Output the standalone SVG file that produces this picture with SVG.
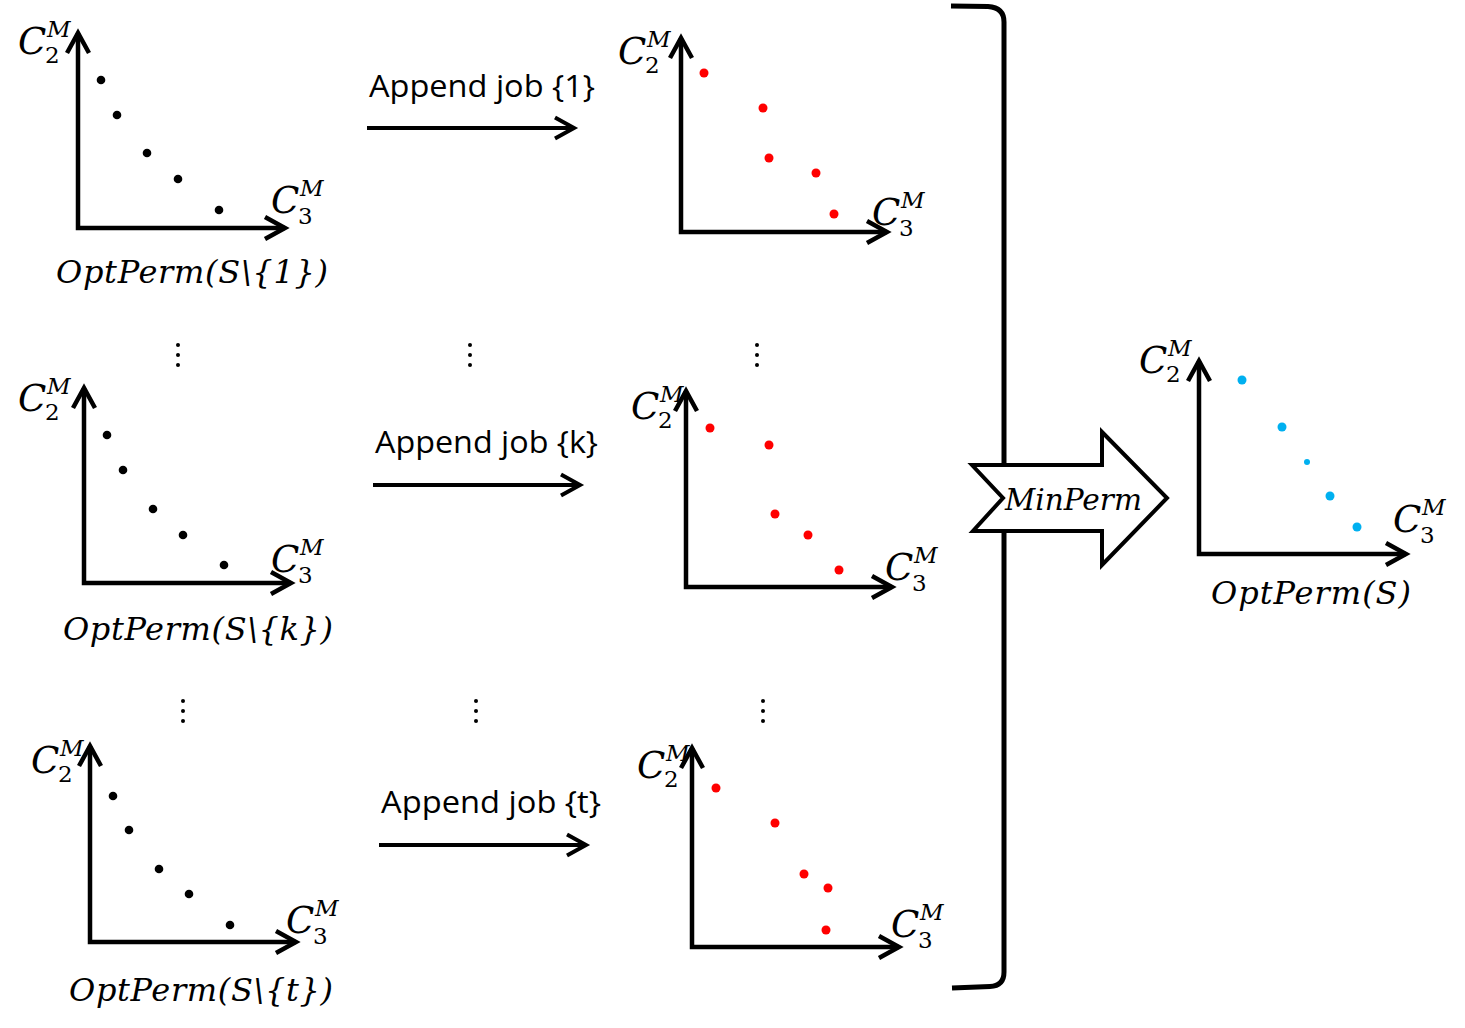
<svg xmlns="http://www.w3.org/2000/svg" width="1465" height="1028" viewBox="0 0 1465 1028">
<style>
.ax{fill:none;stroke:#000;stroke-width:4.5;stroke-linejoin:miter;marker-start:url(#ah);marker-end:url(#ah)}
.ar{fill:none;stroke:#000;stroke-width:4;marker-end:url(#ah2)}
.c{font-family:"DejaVu Serif","Liberation Serif",serif;font-style:italic;font-size:37px;fill:#000}
.n{font-family:"DejaVu Serif","Liberation Serif",serif;font-style:normal;font-size:23px}
.mi{font-family:"DejaVu Serif","Liberation Serif",serif;font-style:italic;font-size:23px}
.op{font-family:"DejaVu Serif","Liberation Serif",serif;font-style:italic;font-size:32px;fill:#000}
.ap{font-family:"Open Sans","Liberation Sans",sans-serif;font-size:31px;fill:#000}
.k{fill:#000}.r{fill:#ff0000}.b{fill:#00b0f0}
</style>
<defs>
<marker id="ah" markerUnits="userSpaceOnUse" orient="auto-start-reverse" markerWidth="40" markerHeight="40" refX="0" refY="0" viewBox="-30 -20 40 40" overflow="visible">
<path d="M-20,-11 L0,0 L-20,11" fill="none" stroke="#000" stroke-width="4.5"/>
</marker>
<marker id="ah2" markerUnits="userSpaceOnUse" orient="auto" markerWidth="40" markerHeight="40" refX="0" refY="0" viewBox="-30 -20 40 40" overflow="visible">
<path d="M-19,-10.5 L0,0 L-19,10.5" fill="none" stroke="#000" stroke-width="4"/>
</marker>
</defs>
<rect width="1465" height="1028" fill="#fff"/>

<g id="panel-1">
<path class="ax" d="M78,33 L78,228 L285,228"/>
<circle class="k" cx="101" cy="80" r="4.3"/><circle class="k" cx="117" cy="115" r="4.3"/><circle class="k" cx="147" cy="153" r="4.3"/><circle class="k" cx="178" cy="179" r="4.3"/><circle class="k" cx="219" cy="210" r="4.3"/>
<text class="c" x="18" y="54">C<tspan class="mi" x="47" dy="-17">M</tspan><tspan class="n" x="45" dy="26">2</tspan></text>
<text class="c" x="271" y="213">C<tspan class="mi" x="300" dy="-17">M</tspan><tspan class="n" x="298" dy="28">3</tspan></text>
<text class="op" x="56" y="283" textLength="272" lengthAdjust="spacing">OptPerm(S\{1})</text>
</g>

<g id="panel-k">
<path class="ax" d="M84,388 L84,583 L291,583"/>
<circle class="k" cx="107" cy="435" r="4.3"/><circle class="k" cx="123" cy="470" r="4.3"/><circle class="k" cx="153" cy="509" r="4.3"/><circle class="k" cx="183" cy="535" r="4.3"/><circle class="k" cx="224" cy="565" r="4.3"/>
<text class="c" x="18" y="411">C<tspan class="mi" x="47" dy="-17">M</tspan><tspan class="n" x="45" dy="26">2</tspan></text>
<text class="c" x="271" y="572">C<tspan class="mi" x="300" dy="-17">M</tspan><tspan class="n" x="298" dy="28">3</tspan></text>
<text class="op" x="63" y="640" textLength="270" lengthAdjust="spacing">OptPerm(S\{k})</text>
</g>

<g id="panel-t">
<path class="ax" d="M90,746 L90,942 L296,942"/>
<circle class="k" cx="113" cy="796" r="4.3"/><circle class="k" cx="129" cy="830" r="4.3"/><circle class="k" cx="159" cy="869" r="4.3"/><circle class="k" cx="189" cy="894" r="4.3"/><circle class="k" cx="230" cy="925" r="4.3"/>
<text class="c" x="31" y="773">C<tspan class="mi" x="60" dy="-17">M</tspan><tspan class="n" x="58" dy="26">2</tspan></text>
<text class="c" x="286" y="933">C<tspan class="mi" x="315" dy="-17">M</tspan><tspan class="n" x="313" dy="28">3</tspan></text>
<text class="op" x="69" y="1001" textLength="264" lengthAdjust="spacing">OptPerm(S\{t})</text>
</g>

<g id="ellipses">
<circle class="k" cx="178" cy="345" r="2"/><circle class="k" cx="178" cy="355" r="2"/><circle class="k" cx="178" cy="365" r="2"/>
<circle class="k" cx="470" cy="345" r="2"/><circle class="k" cx="470" cy="355" r="2"/><circle class="k" cx="470" cy="365" r="2"/>
<circle class="k" cx="757" cy="345" r="2"/><circle class="k" cx="757" cy="355" r="2"/><circle class="k" cx="757" cy="365" r="2"/>
<circle class="k" cx="183" cy="701" r="2"/><circle class="k" cx="183" cy="711" r="2"/><circle class="k" cx="183" cy="721" r="2"/>
<circle class="k" cx="476" cy="701" r="2"/><circle class="k" cx="476" cy="711" r="2"/><circle class="k" cx="476" cy="721" r="2"/>
<circle class="k" cx="763" cy="701" r="2"/><circle class="k" cx="763" cy="711" r="2"/><circle class="k" cx="763" cy="721" r="2"/>
</g>

<g id="connectors">
<path class="ar" d="M367,128 L574,128"/>
<path class="ar" d="M373,485 L580,485"/>
<path class="ar" d="M379,845 L586,845"/>
<text class="ap" x="369" y="97" textLength="226" lengthAdjust="spacingAndGlyphs">Append job {1}</text>
<text class="ap" x="375" y="453" textLength="223" lengthAdjust="spacingAndGlyphs">Append job {k}</text>
<text class="ap" x="381" y="813" textLength="220" lengthAdjust="spacingAndGlyphs">Append job {t}</text>
</g>

<g id="red-1">
<path class="ax" d="M681,38 L681,232 L887,232"/>
<circle class="r" cx="704" cy="73" r="4.5"/><circle class="r" cx="763" cy="108" r="4.5"/><circle class="r" cx="769" cy="158" r="4.5"/><circle class="r" cx="816" cy="173" r="4.5"/><circle class="r" cx="834" cy="214" r="4.5"/>
<text class="c" x="618" y="64">C<tspan class="mi" x="647" dy="-17">M</tspan><tspan class="n" x="645" dy="26">2</tspan></text>
<text class="c" x="872" y="225">C<tspan class="mi" x="901" dy="-17">M</tspan><tspan class="n" x="899" dy="28">3</tspan></text>
</g>

<g id="red-k">
<path class="ax" d="M686,391 L686,587 L892,587"/>
<circle class="r" cx="710" cy="428" r="4.5"/><circle class="r" cx="769" cy="445" r="4.5"/><circle class="r" cx="775" cy="514" r="4.5"/><circle class="r" cx="808" cy="535" r="4.5"/><circle class="r" cx="839" cy="570" r="4.5"/>
<text class="c" x="631" y="419">C<tspan class="mi" x="660" dy="-17">M</tspan><tspan class="n" x="658" dy="26">2</tspan></text>
<text class="c" x="885" y="580">C<tspan class="mi" x="914" dy="-17">M</tspan><tspan class="n" x="912" dy="28">3</tspan></text>
</g>

<g id="red-t">
<path class="ax" d="M692,748 L692,947 L899,947"/>
<circle class="r" cx="716" cy="788" r="4.5"/><circle class="r" cx="775" cy="823" r="4.5"/><circle class="r" cx="804" cy="874" r="4.5"/><circle class="r" cx="828" cy="888" r="4.5"/><circle class="r" cx="826" cy="930" r="4.5"/>
<text class="c" x="637" y="778">C<tspan class="mi" x="666" dy="-17">M</tspan><tspan class="n" x="664" dy="26">2</tspan></text>
<text class="c" x="891" y="937">C<tspan class="mi" x="920" dy="-17">M</tspan><tspan class="n" x="918" dy="28">3</tspan></text>
</g>

<g id="bracket">
<path d="M951,6 L988,6.5 Q1004,7.5 1004,22 L1004,972 Q1004,986 990,986.5 L952,988" fill="none" stroke="#000" stroke-width="5"/>
</g>

<g id="minperm">
<path d="M972,465 L1102,465 L1102,432 L1167,498 L1102,565 L1102,531 L973,531 L1003,498 Z" fill="#fff" stroke="#000" stroke-width="4" stroke-linejoin="miter"/>
<text class="op" x="1005" y="510" style="font-size:29px" textLength="137" lengthAdjust="spacingAndGlyphs">MinPerm</text>
</g>

<g id="result">
<path class="ax" d="M1199,361 L1199,554 L1406,554"/>
<circle class="b" cx="1242" cy="380" r="4.5"/><circle class="b" cx="1282" cy="427" r="4.5"/><circle class="b" cx="1307" cy="462" r="3"/><circle class="b" cx="1330" cy="496" r="4.5"/><circle class="b" cx="1357" cy="527" r="4.5"/>
<text class="c" x="1139" y="373">C<tspan class="mi" x="1168" dy="-17">M</tspan><tspan class="n" x="1166" dy="26">2</tspan></text>
<text class="c" x="1393" y="532">C<tspan class="mi" x="1422" dy="-17">M</tspan><tspan class="n" x="1420" dy="28">3</tspan></text>
<text class="op" x="1211" y="604" textLength="200" lengthAdjust="spacing">OptPerm(S)</text>
</g>
</svg>
